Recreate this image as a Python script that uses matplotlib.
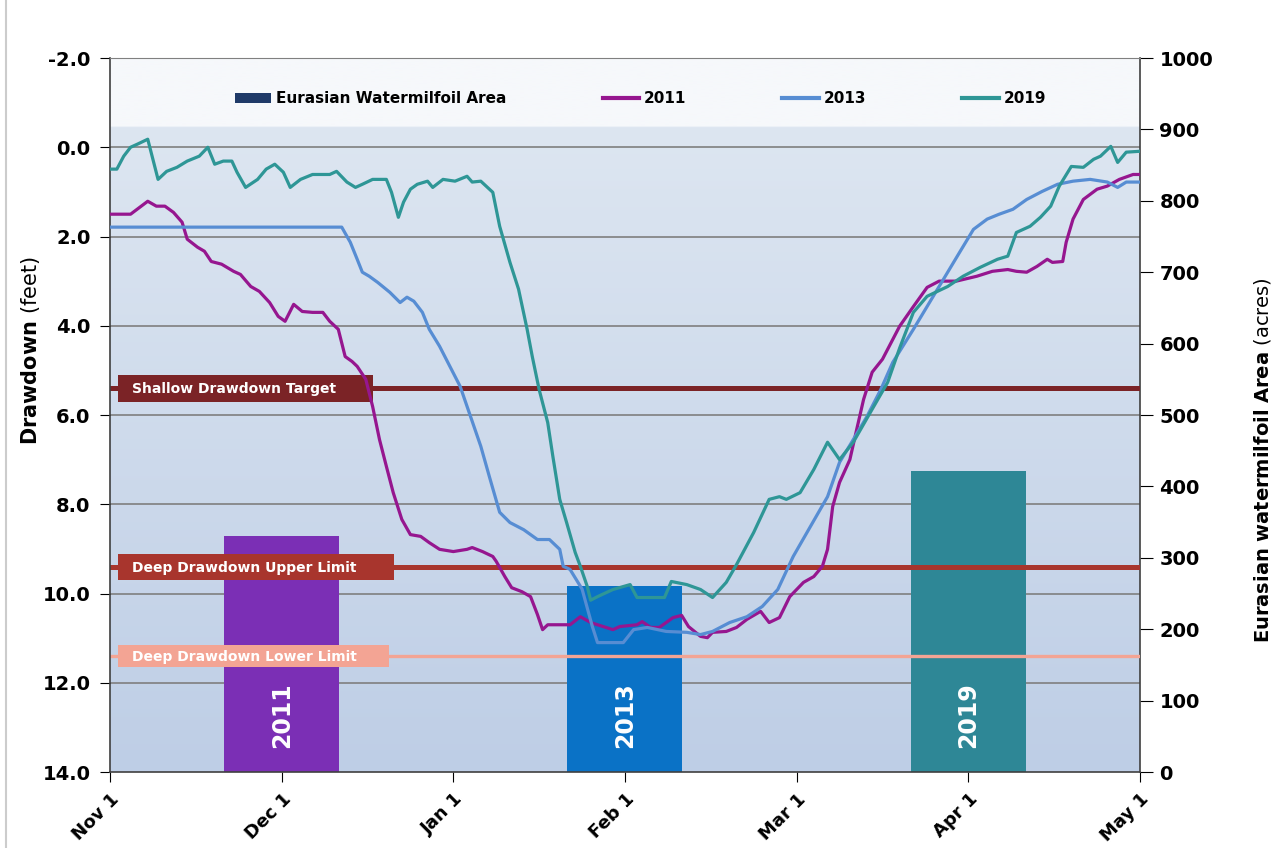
import numpy as np
import matplotlib.pyplot as plt
from matplotlib.patches import Rectangle, Patch
from matplotlib.lines import Line2D

# x = months after Nov 1, y = drawdown in feet
wl_2011 = [(0.00, 1.50), (0.12, 1.50), (0.22, 1.21), (0.27, 1.32), (0.32, 1.32), (0.37, 1.46),
           (0.42, 1.68), (0.45, 2.06), (0.51, 2.24), (0.55, 2.33), (0.59, 2.56), (0.65, 2.62),
           (0.72, 2.78), (0.76, 2.85), (0.82, 3.12), (0.87, 3.23), (0.93, 3.48), (0.98, 3.79),
           (1.02, 3.90), (1.07, 3.52), (1.12, 3.68), (1.18, 3.70), (1.24, 3.70), (1.28, 3.90),
           (1.33, 4.08), (1.37, 4.69), (1.41, 4.80), (1.44, 4.91), (1.49, 5.20), (1.53, 5.81),
           (1.57, 6.55), (1.61, 7.15), (1.65, 7.74), (1.70, 8.34), (1.75, 8.68), (1.81, 8.72),
           (1.86, 8.86), (1.92, 9.01), (2.00, 9.06), (2.08, 9.01), (2.11, 8.97), (2.17, 9.06),
           (2.23, 9.17), (2.25, 9.28), (2.30, 9.62), (2.34, 9.87), (2.40, 9.96), (2.45, 10.07),
           (2.49, 10.47), (2.52, 10.81), (2.55, 10.70), (2.68, 10.70), (2.74, 10.52), (2.80, 10.65),
           (2.84, 10.70), (2.93, 10.81), (2.97, 10.74), (3.07, 10.70), (3.10, 10.63), (3.15, 10.76),
           (3.20, 10.76), (3.28, 10.54), (3.33, 10.49), (3.37, 10.74), (3.44, 10.96), (3.48, 10.99),
           (3.51, 10.87), (3.59, 10.85), (3.65, 10.76), (3.71, 10.58), (3.79, 10.40), (3.84, 10.65),
           (3.90, 10.54), (3.96, 10.07), (4.04, 9.75), (4.10, 9.62), (4.15, 9.39), (4.18, 9.01),
           (4.21, 8.05), (4.25, 7.51), (4.31, 7.00), (4.35, 6.32), (4.39, 5.65), (4.44, 5.04),
           (4.50, 4.75), (4.60, 4.01), (4.68, 3.57), (4.76, 3.14), (4.83, 3.00), (4.93, 3.00),
           (5.05, 2.89), (5.14, 2.78), (5.23, 2.74), (5.28, 2.78), (5.34, 2.80), (5.40, 2.67),
           (5.46, 2.51), (5.49, 2.58), (5.55, 2.56), (5.57, 2.13), (5.61, 1.61), (5.67, 1.17),
           (5.75, 0.94), (5.81, 0.87), (5.88, 0.72), (5.96, 0.61), (6.00, 0.61)]

wl_2013 = [(0.00, 1.79), (1.35, 1.79), (1.40, 2.13), (1.44, 2.51), (1.47, 2.80), (1.51, 2.89),
           (1.56, 3.03), (1.63, 3.25), (1.69, 3.48), (1.73, 3.36), (1.77, 3.45), (1.82, 3.70),
           (1.86, 4.08), (1.92, 4.46), (1.98, 4.91), (2.04, 5.36), (2.10, 6.03), (2.16, 6.70),
           (2.21, 7.38), (2.27, 8.18), (2.33, 8.41), (2.41, 8.57), (2.49, 8.79), (2.56, 8.79),
           (2.62, 9.01), (2.64, 9.39), (2.68, 9.46), (2.75, 9.90), (2.81, 10.74), (2.84, 11.10),
           (2.99, 11.10), (3.05, 10.81), (3.13, 10.76), (3.24, 10.85), (3.36, 10.87), (3.44, 10.92),
           (3.51, 10.85), (3.61, 10.65), (3.71, 10.52), (3.80, 10.29), (3.89, 9.91), (3.98, 9.17),
           (4.08, 8.50), (4.18, 7.83), (4.25, 7.06), (4.33, 6.55), (4.41, 6.03), (4.49, 5.43),
           (4.56, 4.82), (4.68, 4.08), (4.83, 3.12), (4.95, 2.35), (5.03, 1.84), (5.11, 1.61),
           (5.18, 1.50), (5.26, 1.39), (5.34, 1.17), (5.43, 0.99), (5.52, 0.83), (5.61, 0.76),
           (5.71, 0.72), (5.81, 0.78), (5.87, 0.90), (5.92, 0.78), (6.00, 0.78)]

wl_2019 = [(0.00, 0.49), (0.04, 0.49), (0.08, 0.20), (0.12, 0.00), (0.16, -0.07), (0.22, -0.18),
           (0.25, 0.27), (0.28, 0.72), (0.33, 0.54), (0.39, 0.45), (0.45, 0.31), (0.52, 0.20),
           (0.57, 0.00), (0.61, 0.38), (0.66, 0.31), (0.71, 0.31), (0.74, 0.56), (0.79, 0.90),
           (0.86, 0.72), (0.91, 0.49), (0.96, 0.38), (1.01, 0.56), (1.05, 0.90), (1.11, 0.72),
           (1.18, 0.61), (1.28, 0.61), (1.32, 0.54), (1.38, 0.78), (1.43, 0.90), (1.47, 0.83),
           (1.53, 0.72), (1.61, 0.72), (1.64, 1.01), (1.68, 1.57), (1.71, 1.23), (1.75, 0.94),
           (1.79, 0.83), (1.85, 0.76), (1.88, 0.90), (1.94, 0.72), (2.01, 0.76), (2.08, 0.65),
           (2.11, 0.78), (2.16, 0.76), (2.23, 1.01), (2.27, 1.77), (2.33, 2.58), (2.38, 3.18),
           (2.43, 4.08), (2.46, 4.69), (2.50, 5.43), (2.55, 6.17), (2.58, 6.93), (2.62, 7.89),
           (2.66, 8.41), (2.71, 9.08), (2.74, 9.39), (2.78, 9.84), (2.80, 10.15), (2.84, 10.07),
           (2.93, 9.91), (3.03, 9.80), (3.07, 10.09), (3.23, 10.09), (3.27, 9.73), (3.36, 9.80),
           (3.44, 9.91), (3.51, 10.09), (3.59, 9.75), (3.65, 9.35), (3.75, 8.63), (3.84, 7.89),
           (3.90, 7.83), (3.94, 7.89), (4.02, 7.74), (4.10, 7.22), (4.18, 6.61), (4.25, 7.00),
           (4.33, 6.61), (4.44, 5.87), (4.53, 5.27), (4.60, 4.50), (4.68, 3.70), (4.76, 3.34),
           (4.88, 3.12), (4.97, 2.89), (5.07, 2.69), (5.17, 2.51), (5.23, 2.44), (5.28, 1.91),
           (5.36, 1.77), (5.42, 1.57), (5.48, 1.32), (5.53, 0.87), (5.60, 0.43), (5.67, 0.45),
           (5.73, 0.27), (5.77, 0.20), (5.83, -0.02), (5.87, 0.34), (5.92, 0.11), (6.00, 0.09)]

# watermilfoil area bars (acres), centred on a month tick
bar_years = ["2011", "2013", "2019"]
bar_pos = [1, 3, 5]
bar_acres = [330, 260, 422]
bar_colors = ["#7B2FB5", "#0A72C6", "#2E8796"]

month_labels = ["Nov 1", "Dec 1", "Jan 1", "Feb 1", "Mar 1", "Apr 1", "May 1"]

# drawdown targets (feet)
ref_names = ["Shallow Drawdown Target", "Deep Drawdown Upper Limit", "Deep Drawdown Lower Limit"]
ref_depth = [5.4, 9.4, 11.4]
ref_colors = ["#7B2326", "#A8352D", "#F3A494"]

line_colors = {"2011": "#96168F", "2013": "#578DD3", "2019": "#2E9696"}

fig = plt.figure(figsize=(12.73, 8.48), dpi=100)
ax = fig.add_axes([0.0864, 0.0896, 0.8091, 0.842])
ax2 = ax.twinx()
ax.set_zorder(2)
ax2.set_zorder(1)
ax.patch.set_visible(False)

ymin_ft, ymax_ft = -2, 14
ax.set_xlim(0, 6)
ax.set_ylim(ymax_ft, ymin_ft)
ax2.set_ylim(0, 1000)

def ft_to_acres(f):
    return 1000 * (ymax_ft - f) / (ymax_ft - ymin_ft)

# background: white band under the legend, then a soft blue gradient
rows = np.linspace(ymin_ft, ymax_ft, 400)
c_top = np.array([0xDD, 0xE6, 0xF1]) / 255
c_bot = np.array([0xBE, 0xCE, 0xE6]) / 255
frac = np.clip((rows + 0.45) / (ymax_ft + 0.45), 0, 1)[:, None]
grad = c_top * (1 - frac) + c_bot * frac
grad[rows < -0.45] = np.array([0xF6, 0xF8, 0xFB]) / 255
ax2.imshow(grad[:, None, :], extent=[0, 1, 0, 1], transform=ax2.transAxes,
           aspect="auto", zorder=0, interpolation="bilinear")

# grid under the bars
for g in range(0, 13, 2):
    ax2.axhline(ft_to_acres(g), color="#7F7F7F", lw=1.2, zorder=1)

ax2.bar(bar_pos, bar_acres, width=0.67, color=bar_colors, zorder=2)
for x, yr in zip(bar_pos, bar_years):
    ax2.text(x, 80, yr, rotation=90, ha="center", va="center", color="white",
             fontsize=17, fontweight="bold", zorder=3)

# target lines and their labels
ref_lw = [3.6, 3.6, 2.4]
for d, c, lw in zip(ref_depth, ref_colors, ref_lw):
    ax.axhline(d, color=c, lw=lw, zorder=2)

box_w = [1.483, 1.605, 1.576]
box_h = [0.61, 0.59, 0.50]
for name, d, c, w, h in zip(ref_names, ref_depth, ref_colors, box_w, box_h):
    ax.add_patch(Rectangle((0.047, d - h / 2), w, h, facecolor=c, edgecolor="none", zorder=3))
    ax.text(0.13, d + 0.02, name, ha="left", va="center", color="white",
            fontsize=10, fontweight="bold", zorder=4)

for yr, pts in [("2011", wl_2011), ("2013", wl_2013), ("2019", wl_2019)]:
    t, dd = zip(*pts)
    ax.plot(t, dd, color=line_colors[yr], lw=2.3, zorder=5, solid_joinstyle="round")

# axes styling
ax.set_xticks(range(7))
ax.set_xticklabels(month_labels, rotation=45, ha="right", rotation_mode="anchor",
                   fontsize=13, fontweight="bold")
yt = np.arange(ymin_ft, ymax_ft + 1, 2)
ax.set_yticks(yt)
ax.set_yticklabels(["%.1f" % v for v in yt], fontsize=14, fontweight="bold")
ax.tick_params(axis="y", direction="out", length=7, pad=7)
ax.tick_params(axis="x", direction="out", length=7, pad=6)

at = np.arange(0, 1001, 100)
ax2.set_yticks(at)
ax2.set_yticklabels([str(v) for v in at], fontsize=14, fontweight="bold")
ax2.tick_params(axis="y", direction="out", length=9, pad=5)

for s in ["left", "bottom"]:
    ax.spines[s].set_color("#404040")
    ax.spines[s].set_linewidth(1.2)
ax.spines["top"].set_color("#808080")
ax.spines["right"].set_visible(False)
for s in ["left", "top", "bottom"]:
    ax2.spines[s].set_visible(False)
ax2.spines["right"].set_color("#404040")
ax2.spines["right"].set_linewidth(1.2)

ax.set_ylabel(r"$\mathbf{Drawdown}$ (feet)", fontsize=15)
ax.yaxis.set_label_coords(-0.066, 0.59)
ax2.set_ylabel(r"$\mathbf{Eurasian\ watermilfoil\ Area}$ (acres)", fontsize=14)
ax2.yaxis.set_label_coords(1.109, 0.437)

handles = [Patch(facecolor="#1F3A68", edgecolor="none"),
           Line2D([], [], color=line_colors["2011"], lw=3),
           Line2D([], [], color=line_colors["2013"], lw=3),
           Line2D([], [], color=line_colors["2019"], lw=3)]
ax.legend(handles, ["Eurasian Watermilfoil Area", "2011", "2013", "2019"], ncol=4,
          loc="center", bbox_to_anchor=(0.515, 0.9426), frameon=False,
          prop={"size": 11, "weight": "bold"}, handlelength=2.4, handleheight=0.7,
          handletextpad=0.3, columnspacing=6.3)

fig.add_artist(Line2D([0.005, 0.005], [0, 1], transform=fig.transFigure,
                      color="#CCCCCC", lw=1.5))

fig.savefig("out.png", dpi=100)
